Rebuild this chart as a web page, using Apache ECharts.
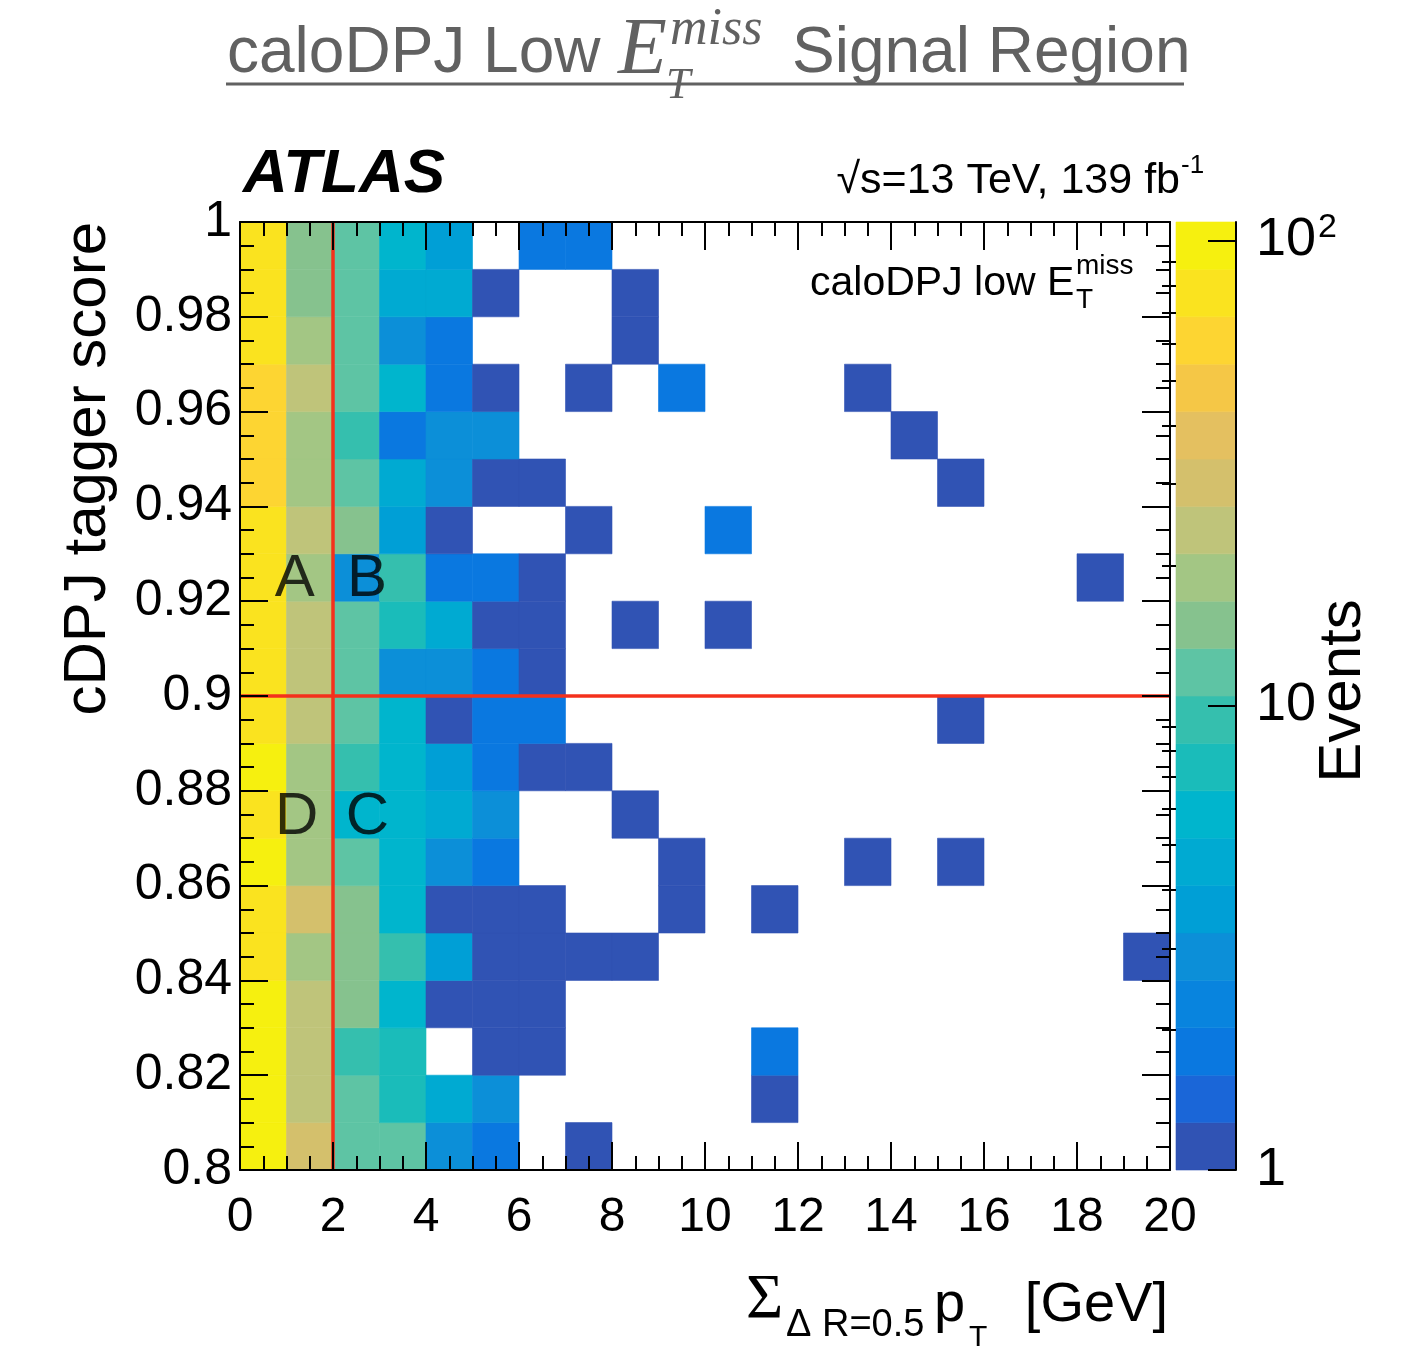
<!DOCTYPE html>
<html><head><meta charset="utf-8">
<script src="https://cdn.jsdelivr.net/npm/echarts@6/dist/echarts.min.js"></script>
<style>html,body{margin:0;padding:0;background:#fff}#c{width:1419px;height:1349px}</style>
</head><body><div id="c"></div>
<script>
// ---- binning ----
const X_MIN = 0, X_MAX = 20, X_BIN = 1;
const Y_MIN = 0.8, Y_MAX = 1.0, Y_BIN = 0.01;

// ---- event counts per y-bin (lower edge), columns x = 0..19 GeV ----
const row_0p80 = [98,30,12,12,3,2,0,1,0,0,0,0,0,0,0,0,0,0,0,0];
const row_0p81 = [98,24,12,7,5,3,0,0,0,0,0,1,0,0,0,0,0,0,0,0];
const row_0p82 = [98,24,9,7,0,1,1,0,0,0,0,2,0,0,0,0,0,0,0,0];
const row_0p83 = [98,24,15,6,1,1,1,0,0,0,0,0,0,0,0,0,0,0,0,0];
const row_0p84 = [78,19,15,9,4,1,1,1,1,0,0,0,0,0,0,0,0,0,0,1];
const row_0p85 = [78,30,15,6,1,1,1,0,0,1,0,1,0,0,0,0,0,0,0,0];
const row_0p86 = [98,19,12,6,3,2,0,0,0,1,0,0,0,1,0,1,0,0,0,0];
const row_0p87 = [78,19,6,6,5,3,0,0,1,0,0,0,0,0,0,0,0,0,0,0];
const row_0p88 = [98,19,9,6,4,2,1,1,0,0,0,0,0,0,0,0,0,0,0,0];
const row_0p89 = [78,24,12,6,1,2,2,0,0,0,0,0,0,0,0,1,0,0,0,0];
const row_0p90 = [78,24,12,3,3,2,1,0,0,0,0,0,0,0,0,0,0,0,0,0];
const row_0p91 = [78,24,12,7,5,1,1,0,1,0,1,0,0,0,0,0,0,0,0,0];
const row_0p92 = [78,19,3,9,2,2,1,0,0,0,0,0,0,0,0,0,0,0,1,0];
const row_0p93 = [78,24,15,4,1,0,0,1,0,0,2,0,0,0,0,0,0,0,0,0];
const row_0p94 = [62,19,12,5,3,1,1,0,0,0,0,0,0,0,0,1,0,0,0,0];
const row_0p95 = [62,19,9,2,3,3,0,0,0,0,0,0,0,0,1,0,0,0,0,0];
const row_0p96 = [62,24,12,6,2,1,0,1,0,2,0,0,0,1,0,0,0,0,0,0];
const row_0p97 = [78,19,12,3,2,0,0,0,1,0,0,0,0,0,0,0,0,0,0,0];
const row_0p98 = [78,15,12,5,5,1,0,0,1,0,0,0,0,0,0,0,0,0,0,0];
const row_0p99 = [78,15,12,6,4,0,2,2,0,0,0,0,0,0,0,0,0,0,0,0];

// ---- ABCD cuts and region labels ----
const CUT_X = 2;
const CUT_Y = 0.9;
const regionLabels = [
  {name:'A', value:[1.18, 0.9245]},
  {name:'B', value:[2.73, 0.9245]},
  {name:'D', value:[1.22, 0.8743]},
  {name:'C', value:[2.74, 0.8743]}
];

// ---- colour axis (log) ----
const Z_MAJOR_TICKS = [1, 10, 100];
const Z_MINOR_TICKS = [2,3,4,5,6,7,8,9,20,30,40,50,60,70,80,90];
const Z_MAX = 109.6;
const PALETTE = ['#3053b4','#1a66d8','#0a78e0','#0884de','#0c8fd8','#009fd6','#00aad2','#00b5cd',
  '#1abcba','#35bfae','#5ec4a4','#86c28e','#a3c684','#bfc47a','#d4c06c','#e4c060',
  '#f5c746','#fdd532','#fae31f','#f6f00f'];

const LOG_MAX = Math.log10(Z_MAX);
const STEP = LOG_MAX / PALETTE.length;
function colorFor(v){
  let k = Math.floor(Math.log10(v) / STEP);
  k = Math.max(0, Math.min(PALETTE.length - 1, k));
  return PALETTE[k];
}

const rows = [row_0p80,row_0p81,row_0p82,row_0p83,row_0p84,row_0p85,row_0p86,row_0p87,row_0p88,row_0p89,
              row_0p90,row_0p91,row_0p92,row_0p93,row_0p94,row_0p95,row_0p96,row_0p97,row_0p98,row_0p99];
const cells = [];
rows.forEach((r, j) => r.forEach((v, i) => {
  if (v > 0) cells.push([X_MIN + i * X_BIN, +(Y_MIN + j * Y_BIN).toFixed(4), v]);
}));
const bands = PALETTE.map((c, k) => [k]);

const FONT = 'Liberation Sans';
const SERIF = 'Liberation Serif';
const BLACK = '#000';
const GRAY = '#616161';
const lineStyle = {color: BLACK, width: 2};
const majorTick = {show: true, inside: true, length: 28, lineStyle: lineStyle};
const minorTick = {show: true, splitNumber: 4, length: 14, lineStyle: lineStyle};

function txt(x, y, text, size, o) {
  o = o || {};
  return {type: 'text', x: x, y: y, rotation: o.rot || 0, z: 100, silent: true,
    style: {text: text, fontSize: size, fontFamily: o.ff || FONT, fontStyle: o.fs || 'normal',
      fontWeight: o.fw || 'normal', fill: o.fill || BLACK, align: o.align || 'left',
      verticalAlign: o.va || 'middle'}};
}

const chart = echarts.init(document.getElementById('c'), null, {renderer: 'canvas'});
chart.setOption({
  backgroundColor: '#fff',
  animation: false,
  grid: [
    {left: 240, top: 222, width: 930, height: 948},
    {left: 1176, top: 222, width: 60, height: 948}
  ],
  xAxis: [
    {gridIndex: 0, type: 'value', min: X_MIN, max: X_MAX, interval: 2, position: 'bottom', z: 10,
      axisLine: {show: true, onZero: false, lineStyle: lineStyle}, axisTick: majorTick, minorTick: minorTick,
      splitLine: {show: false},
      axisLabel: {fontSize: 48, fontFamily: FONT, color: BLACK, margin: 24}},
    {gridIndex: 0, type: 'value', min: X_MIN, max: X_MAX, interval: 2, position: 'top', z: 10,
      axisLine: {show: true, onZero: false, lineStyle: lineStyle}, axisTick: majorTick, minorTick: minorTick,
      splitLine: {show: false}, axisLabel: {show: false}},
    {gridIndex: 1, type: 'value', min: 0, max: 1, show: false}
  ],
  yAxis: [
    {gridIndex: 0, type: 'value', min: Y_MIN, max: Y_MAX, interval: 0.02, position: 'left', z: 10,
      axisLine: {show: true, onZero: false, lineStyle: lineStyle}, axisTick: majorTick, minorTick: minorTick,
      splitLine: {show: false},
      axisLabel: {fontSize: 50, fontFamily: FONT, color: BLACK, margin: 8}},
    {gridIndex: 0, type: 'value', min: Y_MIN, max: Y_MAX, interval: 0.02, position: 'right', z: 10,
      axisLine: {show: true, onZero: false, lineStyle: lineStyle}, axisTick: majorTick, minorTick: minorTick,
      splitLine: {show: false}, axisLabel: {show: false}},
    {gridIndex: 1, type: 'value', min: 0, max: LOG_MAX, position: 'right', z: 10,
      axisLine: {show: true, onZero: false, lineStyle: lineStyle},
      axisTick: {show: true, inside: true, length: 28, lineStyle: lineStyle,
        customValues: Z_MAJOR_TICKS.map(Math.log10)},
      splitLine: {show: false},
      axisLabel: {customValues: Z_MAJOR_TICKS.map(Math.log10), fontSize: 54, fontFamily: FONT, color: BLACK, margin: 20,
        formatter: function (v) {
          const n = Math.round(v);
          if (n === 0) return '1';
          if (n === 1) return '10';
          return '{b|10}{s|' + n + '}';
        },
        rich: {b: {fontSize: 54, fontFamily: FONT, color: BLACK},
               s: {fontSize: 34, fontFamily: FONT, color: BLACK, padding: [0, 0, 26, 2]}}}},
    {gridIndex: 1, type: 'value', min: 0, max: LOG_MAX, position: 'right', z: 10,
      axisLine: {show: false},
      axisTick: {show: true, inside: true, length: 14, lineStyle: lineStyle,
        customValues: Z_MINOR_TICKS.map(Math.log10)},
      splitLine: {show: false}, axisLabel: {show: false}}
  ],
  series: [
    {type: 'custom', xAxisIndex: 0, yAxisIndex: 0, z: 2, silent: true, data: cells,
      encode: {x: 0, y: 1},
      renderItem: function (params, api) {
        const x = api.value(0), y = api.value(1), v = api.value(2);
        const p0 = api.coord([x, y]);
        const p1 = api.coord([x + X_BIN, y + Y_BIN]);
        const c = colorFor(v);
        return {type: 'rect', shape: {x: p0[0], y: p1[1], width: p1[0] - p0[0], height: p0[1] - p1[1]},
          style: {fill: c, stroke: c, lineWidth: 0.6}};
      }},
    {type: 'custom', xAxisIndex: 2, yAxisIndex: 2, z: 2, silent: true, data: bands,
      encode: {y: 0},
      renderItem: function (params, api) {
        const k = api.value(0);
        const p0 = api.coord([0, k * STEP]);
        const p1 = api.coord([1, (k + 1) * STEP]);
        return {type: 'rect', shape: {x: p0[0], y: p1[1], width: p1[0] - p0[0], height: p0[1] - p1[1]},
          style: {fill: PALETTE[k], stroke: PALETTE[k], lineWidth: 0.6}};
      }},
    {type: 'line', xAxisIndex: 0, yAxisIndex: 0, z: 4, silent: true, symbol: 'none',
      data: [[CUT_X, Y_MIN], [CUT_X, Y_MAX]], lineStyle: {color: '#f4301c', width: 3.5}},
    {type: 'line', xAxisIndex: 0, yAxisIndex: 0, z: 4, silent: true, symbol: 'none',
      data: [[X_MIN, CUT_Y], [X_MAX, CUT_Y]], lineStyle: {color: '#f4301c', width: 3.5}},
    {type: 'scatter', xAxisIndex: 0, yAxisIndex: 0, z: 6, silent: true, symbolSize: 0,
      data: regionLabels,
      label: {show: true, position: 'inside', formatter: '{b}', fontSize: 60, fontFamily: FONT,
        color: BLACK, textBorderWidth: 0}}
  ],
  graphic: [
    txt(227, 54, 'caloDPJ Low', 64, {fill: GRAY}),
    txt(618, 52, 'E', 80, {ff: SERIF, fs: 'italic', fill: GRAY}),
    txt(670, 30, 'miss', 52, {ff: SERIF, fs: 'italic', fill: GRAY}),
    txt(666, 86, 'T', 44, {ff: SERIF, fs: 'italic', fill: GRAY}),
    txt(792, 54, 'Signal Region', 64, {fill: GRAY}),
    {type: 'line', z: 100, silent: true, shape: {x1: 226, y1: 84, x2: 1184, y2: 84}, style: {stroke: GRAY, lineWidth: 3}},
    txt(243, 175, 'ATLAS', 62, {fw: 'bold', fs: 'italic'}),
    txt(1180, 181, '\u221As=13 TeV, 139 fb', 43, {align: 'right'}),
    txt(1181, 166, '-1', 26),
    txt(810, 284, 'caloDPJ low E', 41),
    txt(1076, 266, 'miss', 28),
    txt(1076, 300, 'T', 28),
    txt(88, 222, 'cDPJ tagger score', 60, {rot: Math.PI / 2, align: 'right'}),
    txt(746, 1301, '\u03A3', 64, {ff: SERIF}),
    txt(786, 1326, '\u0394 R=0.5', 38),
    txt(934, 1306, 'p', 56),
    txt(969, 1338, 'T', 30),
    txt(1168, 1306, '[GeV]', 56, {align: 'right'}),
    txt(1343, 691, 'Events', 60, {rot: Math.PI / 2, align: 'center'})
  ]
});
</script>
</body></html>
